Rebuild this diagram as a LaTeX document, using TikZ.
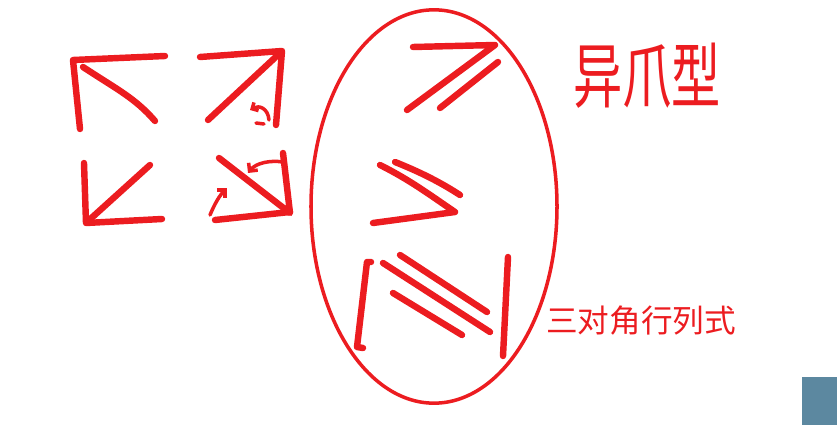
\documentclass[tikz,border=0pt]{standalone}
\usepackage{fontspec}
\newfontfamily\cjk{Noto Sans CJK SC}
\usetikzlibrary{arrows.meta}
\definecolor{ink}{RGB}{236,28,32}
\definecolor{slate}{RGB}{92,136,160}

\begin{document}
\begin{tikzpicture}[x=0.03cm, y=-0.03cm,
    pen/.style={draw=ink, line width=5.5pt, line cap=round, line join=round},
    thin pen/.style={pen, line width=3pt},
    ring/.style={draw=ink, line width=3pt},
    note/.style={text=ink, inner sep=0pt}]
  \useasboundingbox (0,0) rectangle (837,425);
  % four claw shapes
  \draw[pen] (165,56) -- (73,60) -- (80,129);
  \draw[pen] (83,67) .. controls (118,90) and (135,98) .. (155,121);
  \draw[pen] (200,57) -- (282,51) -- (276,125);
  \draw[pen] (208,120) -- (280,53);
  \draw[thin pen, -{Straight Barb[length=4pt]}] (269,120) .. controls (268,108) and (259,105) .. (250,110);
  \draw[thin pen] (256,123) -- (264,124);
  \draw[pen] (84,163) -- (86,223) -- (162,219);
  \draw[pen] (150,165) -- (87,222);
  \draw[pen] (219,158) -- (290,213) -- (283,153);
  \draw[pen] (215,220) -- (290,212);
  \draw[thin pen, -{Straight Barb[length=5pt]}] (283,162) .. controls (270,160) and (256,163) .. (248,173);
  \draw[thin pen, -{Straight Barb[length=5pt]}] (210,215) .. controls (215,203) and (220,195) .. (227,188);
  % inside the ring
  \draw[pen] (413,47) -- (495,45) -- (407,110);
  \draw[pen] (440,108) -- (498,62);
  \draw[pen] (380,165) .. controls (410,180) and (430,195) .. (455,212) -- (373,223);
  \draw[pen] (395,162) .. controls (420,172) and (440,182) .. (460,195);
  \draw[pen] (371,262) -- (367,262) -- (357,347) -- (363,348);
  \draw[pen] (508,257) -- (503,356);
  \draw[pen] (383,263) -- (490,332);
  \draw[pen] (400,255) -- (487,312);
  \draw[pen] (393,293) -- (462,335);
  \draw[ring] (434,206.5) ellipse [x radius=3.69cm, y radius=5.9cm];
  % texts
  \node[note, font=\cjk\fontsize{42}{42}\selectfont] (claw) at (647,76) {\scalebox{1}[1.45]{异爪型}};
  \node[note, font=\cjk\fontsize{27}{27}\selectfont] (tridiag) at (641,321) {三对角行列式};
  \fill[slate] (802,377) rectangle (837,425);
\end{tikzpicture}
\end{document}
